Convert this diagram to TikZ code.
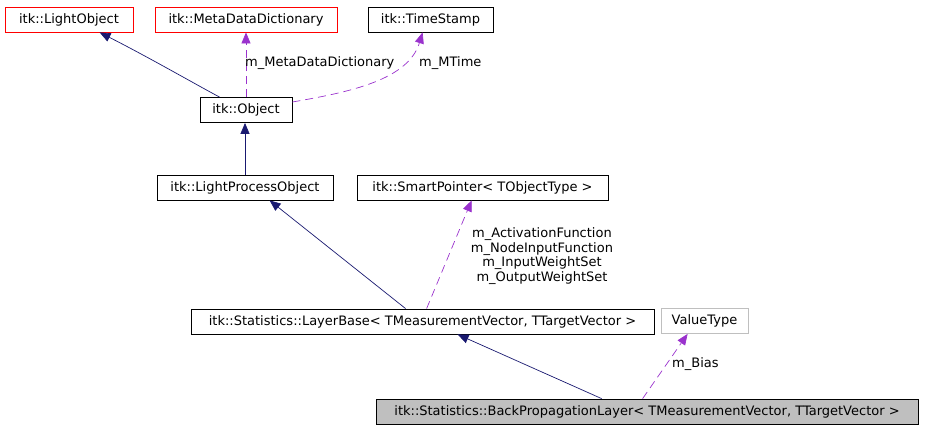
\documentclass[tikz,border=0pt]{standalone}
\usepackage{fontspec}
\setmainfont{DejaVu Sans}
\usetikzlibrary{arrows.meta,positioning,calc}
\definecolor{Ink}{HTML}{000000}
\definecolor{Navy}{HTML}{191970}
\definecolor{Orchid}{HTML}{9A32CD}
\definecolor{Missing}{HTML}{FF0000}
\definecolor{Undoc}{HTML}{BFBFBF}
\definecolor{Focus}{HTML}{BFBFBF}
\tikzset{
  classbox/.style={draw=Ink,fill=white,line width=0.8pt,minimum height=25pt,inner sep=0pt,align=center,font=\fontsize{13}{15}\selectfont,text=Ink},
  extbox/.style={classbox,draw=Missing},
  undocbox/.style={classbox,draw=Undoc},
  mainbox/.style={classbox,fill=Focus},
  inherit/.style={-{Triangle[length=11pt,width=9pt]},draw=Navy,line width=0.7pt},
  member/.style={-{Triangle[length=11pt,width=9pt]},draw=Orchid,line width=0.7pt,dash pattern=on 8pt off 5pt},
  memberlabel/.style={font=\fontsize{13}{15}\selectfont,text=Ink,inner sep=0pt}
}
\begin{document}
\begin{tikzpicture}[x=1pt,y=-1pt]
  \useasboundingbox (0,0) rectangle (925,429);
  % classes
  \node[extbox,minimum width=128pt] (lightobj) at (69,19.5) {itk::LightObject};
  \node[extbox,minimum width=182pt] (metadict) at (246,19.5) {itk::MetaDataDictionary};
  \node[classbox,minimum width=125pt] (timestamp) at (430.5,19.5) {itk::TimeStamp};
  \node[classbox,minimum width=92pt] (object) at (246,110) {itk::Object};
  \node[classbox,minimum width=176pt] (lpobject) at (245,187.5) {itk::LightProcessObject};
  \node[classbox,minimum width=251pt] (smartptr) at (482.5,187.5) {itk::SmartPointer< TObjectType >};
  \node[classbox,minimum width=463pt] (layerbase) at (422.5,321.5) {itk::Statistics::LayerBase< TMeasurementVector, TTargetVector >};
  \node[undocbox,minimum width=87pt] (valuetype) at (704.5,321) {ValueType};
  \node[mainbox,minimum width=542pt] (bplayer) at (647,411.5) {itk::Statistics::BackPropagationLayer< TMeasurementVector, TTargetVector >};

  % inheritance
  \draw[inherit] ($(object.north west)+(20,0)$) .. controls (195,84) and (150,58) .. ($(lightobj.south west)+(95,0)$);
  \draw[inherit] (lpobject.north) -- (lpobject.north |- object.south);
  \draw[inherit] ($(layerbase.north west)+(215,0)$) -- ($(lpobject.south west)+(113,0)$);
  \draw[inherit] ($(bplayer.north west)+(226,0)$) -- ($(layerbase.south west)+(267,0)$);

  % members
  \draw[member] (object.north) -- (metadict.south);
  \draw[member] ($(object.east)+(0,-8)$) .. controls (350,92) and (408,80) .. ($(timestamp.south west)+(55,0)$);
  \draw[member] ($(layerbase.north west)+(236,0)$) -- ($(smartptr.south west)+(115,0)$);
  \draw[member] ($(bplayer.north west)+(267,0)$) -- ($(valuetype.south west)+(27,0)$);

  % member names
  \node[memberlabel,anchor=west] (lblmeta) at (245,63) {m\_MetaDataDictionary};
  \node[memberlabel,anchor=west] (lbltime) at (419,63) {m\_MTime};
  \node[memberlabel,align=center,font=\fontsize{13}{14.5}\selectfont] (lblsmart) at (542,256) {m\_ActivationFunction\\m\_NodeInputFunction\\m\_InputWeightSet\\m\_OutputWeightSet};
  \node[memberlabel,anchor=west] (lblbias) at (672,364.5) {m\_Bias};
\end{tikzpicture}
\end{document}
